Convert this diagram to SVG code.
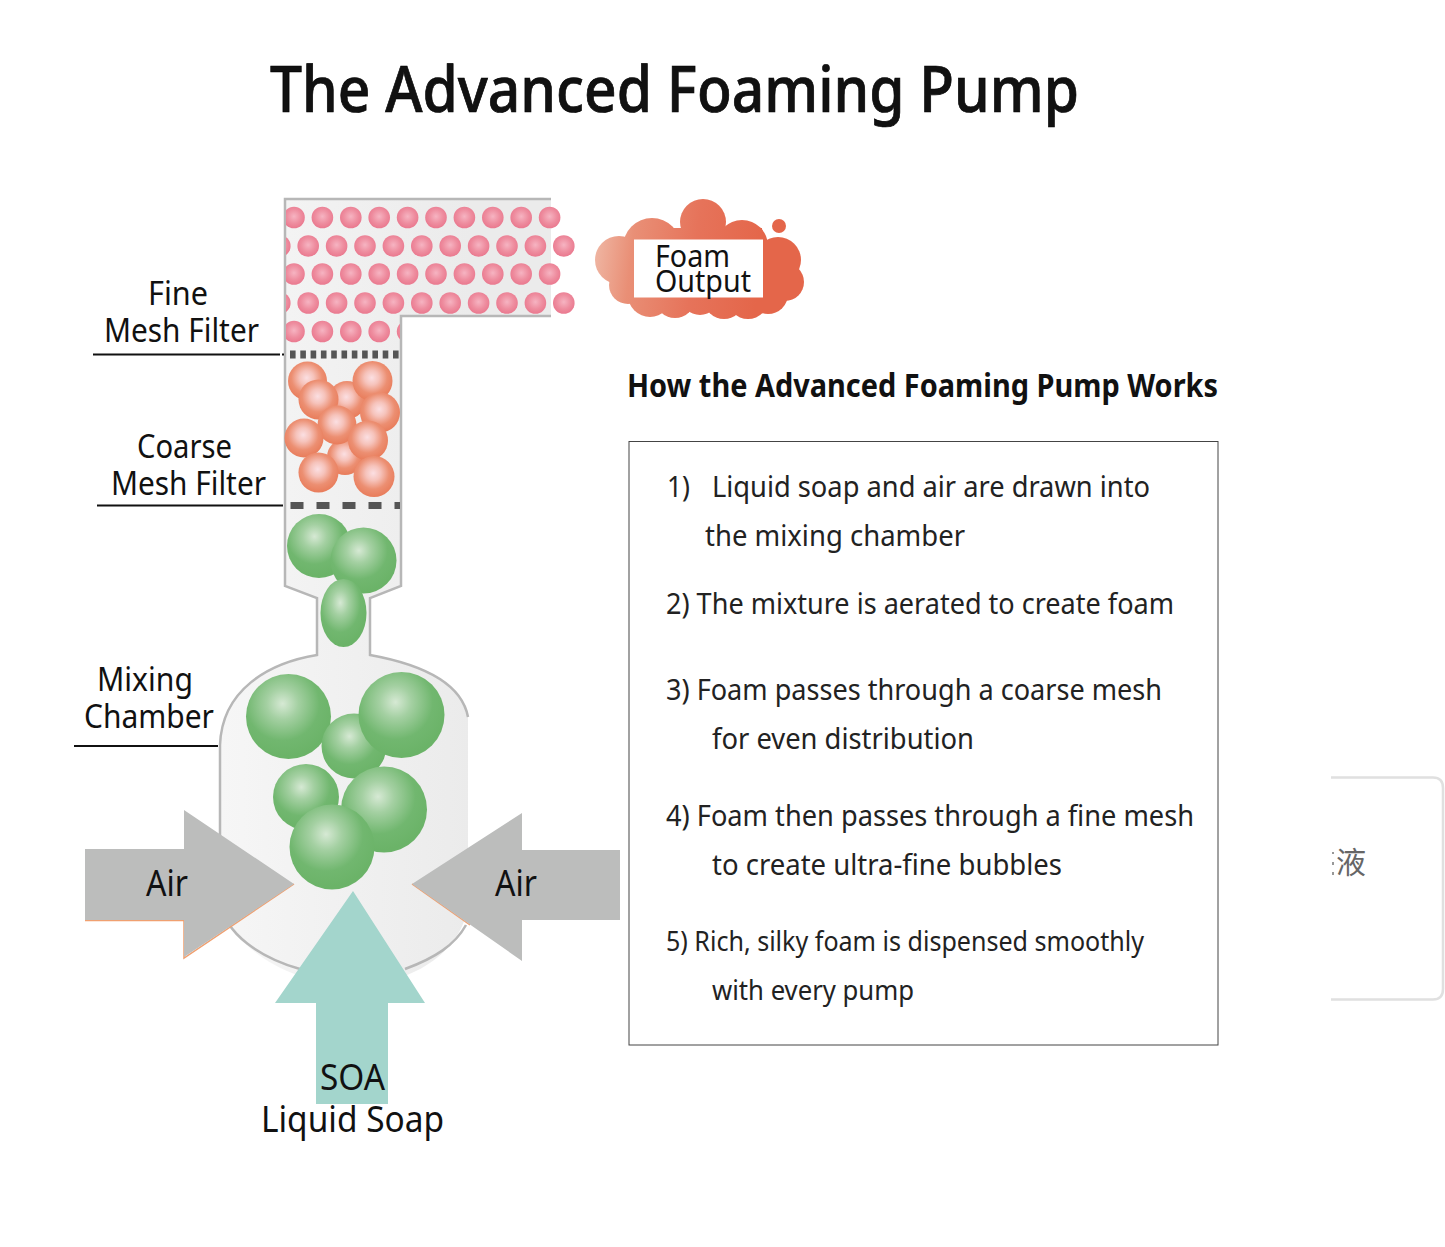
<svg xmlns="http://www.w3.org/2000/svg" width="1445" height="1247" viewBox="0 0 1445 1247">
<style>
text{font-family:"Noto Sans","Open Sans","Liberation Sans",sans-serif;fill:#111}
.lab{font-size:33px}
.step{font-size:29px;fill:#222}
.pink{fill:url(#gPink)}
.coral{fill:url(#gCoral)}
.green{fill:url(#gGreen)}
.leader{stroke:#111;stroke-width:2;fill:none}
</style>
<defs>
<radialGradient id="gPink" cx=".5" cy=".45" r=".6"><stop offset="0" stop-color="#f6b4c2"/><stop offset=".55" stop-color="#ee8d9f"/><stop offset="1" stop-color="#e9748b"/></radialGradient>
<radialGradient id="gCoral" cx=".48" cy=".42" r=".6"><stop offset="0" stop-color="#fbdfe2"/><stop offset=".3" stop-color="#f6c3bb"/><stop offset=".65" stop-color="#ec8f72"/><stop offset="1" stop-color="#e87a58"/></radialGradient>
<radialGradient id="gGreen" cx=".43" cy=".35" r=".62"><stop offset="0" stop-color="#d6e9d4"/><stop offset=".3" stop-color="#a4d0a2"/><stop offset=".7" stop-color="#71b76f"/><stop offset="1" stop-color="#6bb368"/></radialGradient>
<linearGradient id="gBody" gradientUnits="userSpaceOnUse" x1="220" y1="0" x2="470" y2="0"><stop offset="0" stop-color="#f6f6f6"/><stop offset="1" stop-color="#ebebeb"/></linearGradient>
<linearGradient id="gCloud" gradientUnits="userSpaceOnUse" x1="595" y1="250" x2="760" y2="270"><stop offset="0" stop-color="#efb5a2"/><stop offset=".22" stop-color="#e98f76"/><stop offset=".6" stop-color="#e6735a"/><stop offset="1" stop-color="#e4664a"/></linearGradient>
<clipPath id="cPipe"><path d="M286 200H600V316H400V362H286Z"/></clipPath>
</defs>

<text x="270" y="112" font-size="64" font-weight="500" fill="#000" stroke="#000" stroke-width=".7" textLength="809" lengthAdjust="spacingAndGlyphs">The Advanced Foaming Pump</text>

<g id="pump-body">
<path d="M551 199H285V586L317 598V655C268 663 222 690 220 745V900C222 935 280 985 352 985C425 985 468 940 468 900V717C462 685 425 665 370 655V598L401 586V316H551" fill="url(#gBody)" stroke="none"/>
<path d="M551 199H285V586L317 598V655C268 663 222 690 220 745V900C224 935 262 958 300 969M405 969C435 958 455 945 466 925M468 717C462 685 425 665 370 655V598L401 586V316H551" fill="none" stroke="#b7b7b7" stroke-width="2.500"/>
</g>

<g id="fine-bubbles" clip-path="url(#cPipe)">
<circle class="pink" cx="294" cy="217.500" r="10.800"/><circle class="pink" cx="322.400" cy="217.500" r="10.800"/><circle class="pink" cx="350.800" cy="217.500" r="10.800"/><circle class="pink" cx="379.200" cy="217.500" r="10.800"/><circle class="pink" cx="407.600" cy="217.500" r="10.800"/><circle class="pink" cx="436" cy="217.500" r="10.800"/><circle class="pink" cx="464.400" cy="217.500" r="10.800"/><circle class="pink" cx="492.800" cy="217.500" r="10.800"/><circle class="pink" cx="521.200" cy="217.500" r="10.800"/><circle class="pink" cx="549.600" cy="217.500" r="10.800"/>
<circle class="pink" cx="279.800" cy="246" r="10.800"/><circle class="pink" cx="308.200" cy="246" r="10.800"/><circle class="pink" cx="336.600" cy="246" r="10.800"/><circle class="pink" cx="365" cy="246" r="10.800"/><circle class="pink" cx="393.400" cy="246" r="10.800"/><circle class="pink" cx="421.800" cy="246" r="10.800"/><circle class="pink" cx="450.200" cy="246" r="10.800"/><circle class="pink" cx="478.600" cy="246" r="10.800"/><circle class="pink" cx="507" cy="246" r="10.800"/><circle class="pink" cx="535.400" cy="246" r="10.800"/><circle class="pink" cx="563.800" cy="246" r="10.800"/>
<circle class="pink" cx="294" cy="274" r="10.800"/><circle class="pink" cx="322.400" cy="274" r="10.800"/><circle class="pink" cx="350.800" cy="274" r="10.800"/><circle class="pink" cx="379.200" cy="274" r="10.800"/><circle class="pink" cx="407.600" cy="274" r="10.800"/><circle class="pink" cx="436" cy="274" r="10.800"/><circle class="pink" cx="464.400" cy="274" r="10.800"/><circle class="pink" cx="492.800" cy="274" r="10.800"/><circle class="pink" cx="521.200" cy="274" r="10.800"/><circle class="pink" cx="549.600" cy="274" r="10.800"/>
<circle class="pink" cx="279.800" cy="303" r="10.800"/><circle class="pink" cx="308.200" cy="303" r="10.800"/><circle class="pink" cx="336.600" cy="303" r="10.800"/><circle class="pink" cx="365" cy="303" r="10.800"/><circle class="pink" cx="393.400" cy="303" r="10.800"/><circle class="pink" cx="421.800" cy="303" r="10.800"/><circle class="pink" cx="450.200" cy="303" r="10.800"/><circle class="pink" cx="478.600" cy="303" r="10.800"/><circle class="pink" cx="507" cy="303" r="10.800"/><circle class="pink" cx="535.400" cy="303" r="10.800"/><circle class="pink" cx="563.800" cy="303" r="10.800"/>
<circle class="pink" cx="294" cy="331.500" r="10.800"/><circle class="pink" cx="322.400" cy="331.500" r="10.800"/><circle class="pink" cx="350.800" cy="331.500" r="10.800"/><circle class="pink" cx="379.200" cy="331.500" r="10.800"/><circle class="pink" cx="407.600" cy="331.500" r="10.800"/>
</g>

<g id="fine-mesh-filter"><path d="M290 354.500H400" stroke="#555" stroke-width="8" stroke-dasharray="5.600 4.700" fill="none"/></g>

<g id="medium-bubbles">
<circle class="coral" cx="347" cy="400" r="19"/><circle class="coral" cx="345" cy="457" r="18"/>
<circle class="coral" cx="307.500" cy="381" r="19.500"/><circle class="coral" cx="318.500" cy="399.500" r="20"/>
<circle class="coral" cx="372.500" cy="381" r="20"/><circle class="coral" cx="380" cy="412.500" r="20"/>
<circle class="coral" cx="337" cy="425" r="19.500"/><circle class="coral" cx="304" cy="438" r="19.500"/>
<circle class="coral" cx="368" cy="440.500" r="20"/><circle class="coral" cx="318.500" cy="472.500" r="20"/><circle class="coral" cx="374" cy="476.500" r="20.500"/>
</g>

<g id="coarse-mesh-filter"><path d="M290.500 505.500H400" stroke="#555" stroke-width="7" stroke-dasharray="13 13" fill="none"/></g>

<g id="large-bubbles">
<circle class="green" cx="319" cy="546" r="32"/><circle class="green" cx="363.500" cy="560.500" r="33"/>
<ellipse class="green" cx="343.500" cy="613" rx="23" ry="34"/>
<circle class="green" cx="288.500" cy="716.500" r="42.500"/><circle class="green" cx="354" cy="746" r="32.500"/><circle class="green" cx="401.500" cy="715" r="43"/>
<circle class="green" cx="306" cy="797" r="33"/><circle class="green" cx="384" cy="809.500" r="43"/><circle class="green" cx="332" cy="847" r="42.500"/>
</g>

<g id="connectors">
<path class="leader" d="M93 354.500H280M282 354.500H284"/><path class="leader" d="M97 505.500H283"/><path class="leader" d="M74 746H218"/>
</g>

<g id="air-left">
<path d="M85 920.500H184V958L294 884" fill="none" stroke="#f0a070" stroke-width="1.500"/>
<path d="M85 849H184V810L294 884L184 957V920H85Z" fill="#bcbdbc"/>
<text x="146" y="896" style="font-size:37px" textLength="42" lengthAdjust="spacingAndGlyphs">Air</text>
</g>
<g id="air-right">
<path d="M412 884L470 925" fill="none" stroke="#f0a070" stroke-width="1.500"/>
<path d="M620 850H522V813L412 884L522 961V920H620Z" fill="#bcbdbc"/>
<text x="495" y="896" style="font-size:37px" textLength="42" lengthAdjust="spacingAndGlyphs">Air</text>
</g>
<g id="liquid-soap">
<path d="M353 891L425 1003H388V1104H316V1003H275Z" fill="#a3d5cc"/>
<text x="320" y="1090" style="font-size:37px" textLength="65" lengthAdjust="spacingAndGlyphs">SOA</text>
<text x="261" y="1132" style="font-size:37px" textLength="183" lengthAdjust="spacingAndGlyphs">Liquid Soap</text>
</g>

<g id="foam-output">
<g fill="url(#gCloud)">
<circle cx="703" cy="222" r="23"/><circle cx="619" cy="260" r="24"/><circle cx="652" cy="247" r="29"/><circle cx="742" cy="246" r="26"/><circle cx="778" cy="260" r="23"/><circle cx="785" cy="282" r="19"/>
<circle cx="628" cy="285" r="19"/><circle cx="650" cy="295" r="22"/><circle cx="675" cy="298" r="20"/><circle cx="700" cy="296" r="19"/><circle cx="724" cy="299" r="20"/><circle cx="748" cy="298" r="21"/><circle cx="768" cy="294" r="20"/><circle cx="779" cy="226" r="7"/>
<rect x="640" y="228" width="122" height="80"/>
</g>
<rect x="634" y="239.500" width="129" height="58" fill="#fff"/>
<text x="655" y="267" style="font-size:30px" textLength="75" lengthAdjust="spacingAndGlyphs">Foam</text>
<text x="655" y="292" style="font-size:30px" textLength="96" lengthAdjust="spacingAndGlyphs">Output</text>
</g>

<g id="labels">
<text class="lab" x="148" y="305" textLength="60" lengthAdjust="spacingAndGlyphs">Fine</text>
<text class="lab" x="104" y="342" textLength="155" lengthAdjust="spacingAndGlyphs">Mesh Filter</text>
<text class="lab" x="137" y="458" textLength="95" lengthAdjust="spacingAndGlyphs">Coarse</text>
<text class="lab" x="111" y="495" textLength="155" lengthAdjust="spacingAndGlyphs">Mesh Filter</text>
<text class="lab" x="97" y="691" textLength="96" lengthAdjust="spacingAndGlyphs">Mixing</text>
<text class="lab" x="84" y="728" textLength="130" lengthAdjust="spacingAndGlyphs">Chamber</text>
</g>

<g id="how-it-works">
<text x="627" y="397" font-size="32" font-weight="700" fill="#111" textLength="591" lengthAdjust="spacingAndGlyphs">How the Advanced Foaming Pump Works</text>
<rect x="629" y="441.500" width="589" height="603.500" fill="#fff" stroke="#444" stroke-width="1"/>
<text class="step" x="667" y="497" textLength="23" lengthAdjust="spacingAndGlyphs">1)</text>
<text class="step" x="712" y="497" textLength="438" lengthAdjust="spacingAndGlyphs">Liquid soap and air are drawn into</text>
<text class="step" x="705" y="546" textLength="260" lengthAdjust="spacingAndGlyphs">the mixing chamber</text>
<text class="step" x="666" y="614" textLength="508" lengthAdjust="spacingAndGlyphs">2) The mixture is aerated to create foam</text>
<text class="step" x="666" y="700" textLength="496" lengthAdjust="spacingAndGlyphs">3) Foam passes through a coarse mesh</text>
<text class="step" x="712" y="749" textLength="262" lengthAdjust="spacingAndGlyphs">for even distribution</text>
<text class="step" x="666" y="826" textLength="528" lengthAdjust="spacingAndGlyphs">4) Foam then passes through a fine mesh</text>
<text class="step" x="712" y="875" textLength="350" lengthAdjust="spacingAndGlyphs">to create ultra-fine bubbles</text>
<text class="step" x="666" y="951" style="font-size:27px" textLength="478" lengthAdjust="spacingAndGlyphs">5) Rich, silky foam is dispensed smoothly</text>
<text class="step" x="712" y="1000" style="font-size:27px" textLength="202" lengthAdjust="spacingAndGlyphs">with every pump</text>
</g>

<g id="side-card">
<path d="M1331 777.500H1433Q1443 777.500 1443 788V989Q1443 999.500 1433 999.500H1331" fill="#fff" stroke="#e0e0e0" stroke-width="2.500"/>
<text x="1336" y="873" style="font-family:'Noto Sans CJK SC',sans-serif;font-size:30px;fill:#666">液</text>
<path d="M1333 852v2M1333 862v3M1333 872v3" stroke="#777" stroke-width="1.500" fill="none"/>
</g>
</svg>
